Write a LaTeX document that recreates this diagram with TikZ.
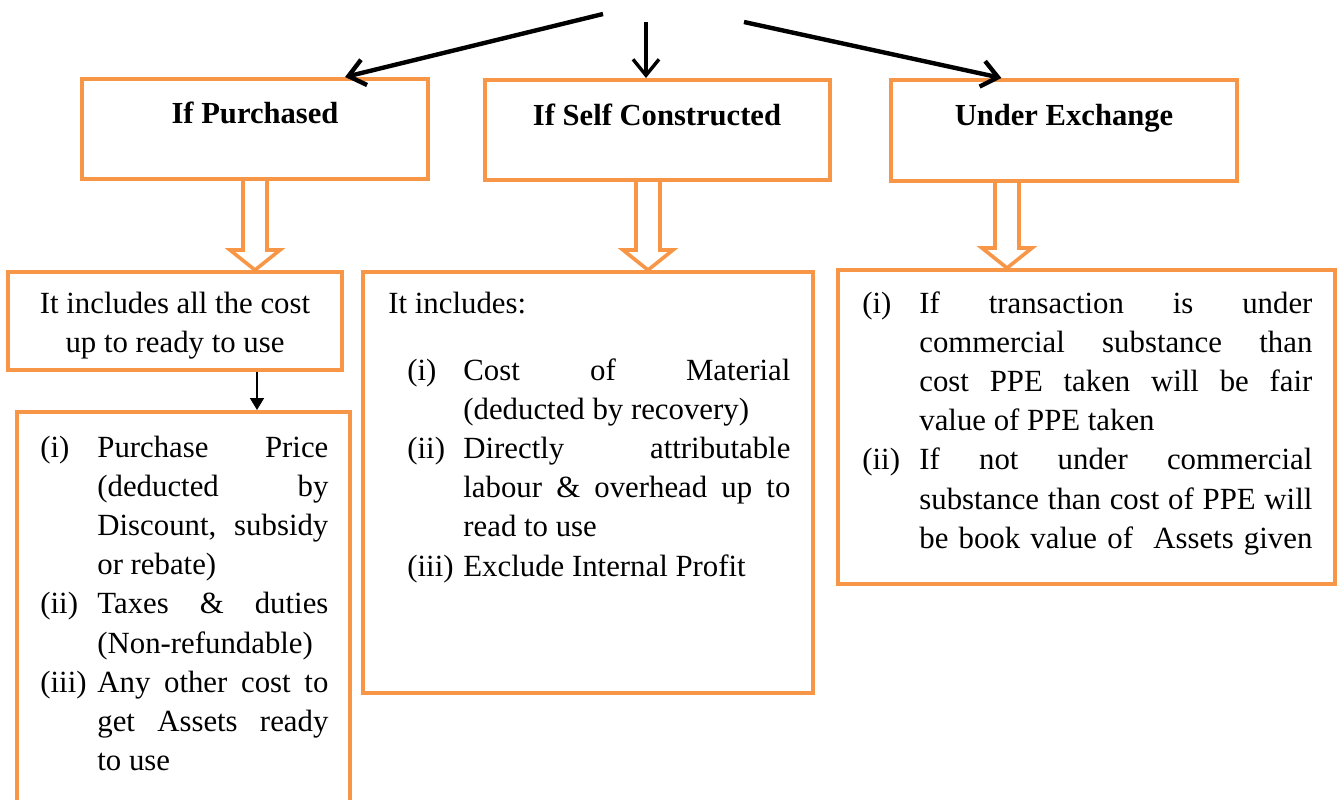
\documentclass[tikz,border=0pt]{standalone}
\usepackage{fontspec}
\setmainfont{Liberation Serif}
\usetikzlibrary{arrows.meta,calc,backgrounds}
\definecolor{boxorange}{HTML}{F79646}
% one justified line of a list item
\newcommand\jl[2]{\makebox[#1][s]{#2}}
% hollow down arrow between two boxes
\newcommand\hollowdown[2]{%
  \draw[hollow] ($(#1)+(-12,0)$) -- ($(#2)+(-12,-20)$) -- ($(#2)+(-25,-20)$) -- (#2)
    -- ($(#2)+(25,-20)$) -- ($(#2)+(12,-20)$) -- ($(#1)+(12,0)$);}

\begin{document}
\begin{tikzpicture}[
  x=0.5pt, y=-0.5pt,
  box/.style={draw=boxorange, line width=2pt, inner sep=0pt, rectangle},
  title/.style={font=\bfseries\fontsize{15.3}{19.6}\selectfont, anchor=base, inner sep=0pt},
  body/.style={font=\fontsize{15.4}{19.6}\selectfont, inner sep=0pt},
  hollow/.style={draw=boxorange, fill=white, line width=1.8pt, line join=miter},
  toparrow/.style={-{Straight Barb[length=8pt,width=13pt]}, line width=2.2pt},
  smallarrow/.style={-{Triangle[length=6pt,width=7pt]}, line width=0.8pt}
  ]
  \useasboundingbox (0,0) rectangle (1338,799);
  \clip (0,0) rectangle (1338,799);

  % Nodes
  \node (b1) [box, minimum width=173pt, minimum height=50pt] at (255,129) {};
  \node (b2) [box, minimum width=172.5pt, minimum height=50pt] at (657.5,130) {};
  \node (b3) [box, minimum width=173pt, minimum height=50.5pt] at (1064,130.5) {};
  \node (b4) [box, minimum width=167pt, minimum height=49pt] at (175,321) {};
  \node (b5) [box, minimum width=166.5pt, minimum height=209pt] at (183.5,621) {};
  \node (b6) [box, minimum width=225pt, minimum height=210.5pt] at (588,482.5) {};
  \node (b7) [box, minimum width=248.5pt, minimum height=157pt] at (1086.5,427) {};

  \node (t1) [title] at (255,123) {If Purchased};
  \node (t2) [title] at (657,125) {If Self Constructed};
  \node (t3) [title] at (1064,125) {Under Exchange};

  \node (l4) [body, anchor=base] at (175,313) {\begin{tabular}[t]{@{}c@{}}
    It includes all the cost\\
    up to ready to use
  \end{tabular}};

  \node (l5) [body, anchor=base west] at (40,457) {\begin{tabular}[t]{@{}p{28.5pt}@{}l@{}}
    (i) & \jl{115.5pt}{Purchase Price}\\
        & \jl{115.5pt}{(deducted by}\\
        & \jl{115.5pt}{Discount, subsidy}\\
        & or rebate)\\
    (ii) & \jl{115.5pt}{Taxes \& duties}\\
         & (Non-refundable)\\
    (iii) & \jl{115.5pt}{Any other cost to}\\
          & \jl{115.5pt}{get Assets ready}\\
          & to use
  \end{tabular}};

  \node (i6) [body, anchor=base west] at (388,313) {It includes:};
  \node (l6) [body, anchor=base west] at (407,380) {\begin{tabular}[t]{@{}p{28pt}@{}l@{}}
    (i) & \jl{163.5pt}{Cost of Material}\\
        & (deducted by recovery)\\
    (ii) & \jl{163.5pt}{Directly attributable}\\
         & \jl{163.5pt}{labour \& overhead up to}\\
         & read to use\\
    (iii) & Exclude Internal Profit
  \end{tabular}};

  \node (l7) [body, anchor=base west] at (862,313) {\begin{tabular}[t]{@{}p{28.5pt}@{}l@{}}
    (i) & \jl{196.5pt}{If transaction is under}\\
        & \jl{196.5pt}{commercial substance than}\\
        & \jl{196.5pt}{cost PPE taken will be fair}\\
        & value of PPE taken\\
    (ii) & \jl{196.5pt}{If not under commercial}\\
         & \jl{196.5pt}{substance than cost of PPE will}\\
         & \jl{196.5pt}{be book value of~ Assets given}
  \end{tabular}};

  \coordinate (s1) at (603,14);
  \coordinate (s2) at (646,22);
  \coordinate (s3) at (744,22);
  \coordinate (h1) at (255,0);
  \coordinate (h2) at (648,0);
  \coordinate (h3) at (1007,0);
  \coordinate (h4) at (257,0);

  % Connections
  \draw[toparrow] (s1) -- (b1.30);
  \draw[toparrow, line width=1.7pt] (s2) -- (s2 |- b2.north);
  \draw[toparrow] (s3) -- (b3.140);
  \begin{scope}[on background layer]
    \hollowdown{h1 |- b1.south}{h1 |- b4.north}
    \hollowdown{h2 |- b2.south}{h2 |- b6.north}
    \hollowdown{h3 |- b3.south}{h3 |- b7.north}
  \end{scope}
  \draw[smallarrow] (h4 |- b4.south) -- (h4 |- b5.north);

\end{tikzpicture}
\end{document}
